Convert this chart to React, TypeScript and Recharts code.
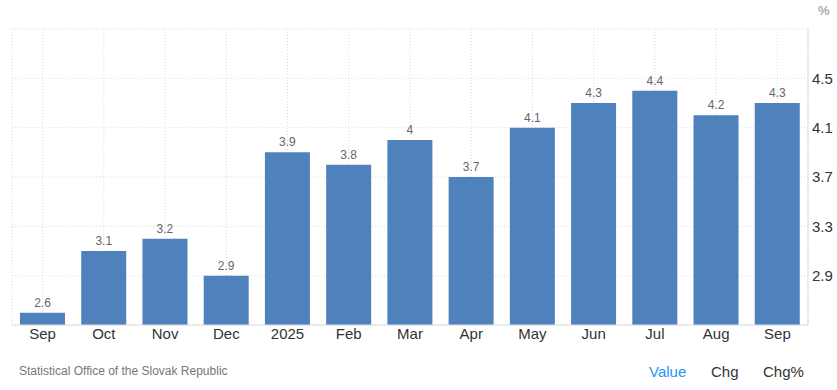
import React from 'react';
import { BarChart, Bar, XAxis, YAxis, CartesianGrid, LabelList } from 'recharts';

const months = ['Sep', 'Oct', 'Nov', 'Dec', '2025', 'Feb', 'Mar', 'Apr', 'May', 'Jun', 'Jul', 'Aug', 'Sep'];
const values = [2.6, 3.1, 3.2, 2.9, 3.9, 3.8, 4, 3.7, 4.1, 4.3, 4.4, 4.2, 4.3];
const yTicks = [2.5, 2.9, 3.3, 3.7, 4.1, 4.5, 4.9];
const shownTicks = [2.9, 3.3, 3.7, 4.1, 4.5];

const data = months.map((m, i) => ({ idx: i, name: m, value: values[i] }));

const font = '"Liberation Sans", Arial, sans-serif';

export default function App() {
    return (
        <div style={{ position: 'absolute', left: 0, top: 0, width: 837, height: 390, background: '#fff', fontFamily: font }}>
            <div style={{ position: 'absolute', left: 818, top: 3, fontSize: 13, color: '#888' }}>%</div>
            <BarChart width={837} height={350} data={data} margin={{ top: 29, right: 0, left: 12, bottom: 0 }}>
                <CartesianGrid yAxisId="main" stroke="#dcdcdc" strokeDasharray="1 2" />
                <XAxis
                    dataKey="idx"
                    tickFormatter={(i) => months[i]}
                    tick={{ fill: '#333', fontSize: 15, fontFamily: font }}
                    tickLine={false}
                    tickSize={0}
                    tickMargin={3}
                    axisLine={{ stroke: '#ddd' }}
                    height={25}
                    interval={0}
                />
                <YAxis yAxisId="left" orientation="left" width={0} domain={[2.5, 4.9]} ticks={yTicks} tick={false} tickLine={false} axisLine={{ stroke: '#ddd' }} />
                <YAxis
                    yAxisId="main"
                    orientation="right"
                    width={29}
                    domain={[2.5, 4.9]}
                    ticks={yTicks}
                    tickFormatter={(v) => (shownTicks.includes(v) ? String(v) : '')}
                    tick={{ fill: '#333', fontSize: 15, fontFamily: font }}
                    tickLine={false}
                    tickSize={0}
                    tickMargin={4}
                    axisLine={{ stroke: '#ddd' }}
                    allowDataOverflow
                />
                <Bar yAxisId="main" dataKey="value" fill="#4f81bd" barSize={45} isAnimationActive={false}>
                    <LabelList dataKey="value" position="top" offset={6} fill="#666" fontSize={12} fontFamily={font} />
                </Bar>
            </BarChart>
            <div style={{ position: 'absolute', left: 19, top: 364, fontSize: 12, color: '#777' }}>Statistical Office of the Slovak Republic</div>
            <div style={{ position: 'absolute', left: 649, top: 363, fontSize: 15, color: '#2196f3' }}>Value</div>
            <div style={{ position: 'absolute', left: 711, top: 363, fontSize: 15, color: '#333' }}>Chg</div>
            <div style={{ position: 'absolute', left: 763, top: 363, fontSize: 15, color: '#333' }}>Chg%</div>
        </div>
    );
}
